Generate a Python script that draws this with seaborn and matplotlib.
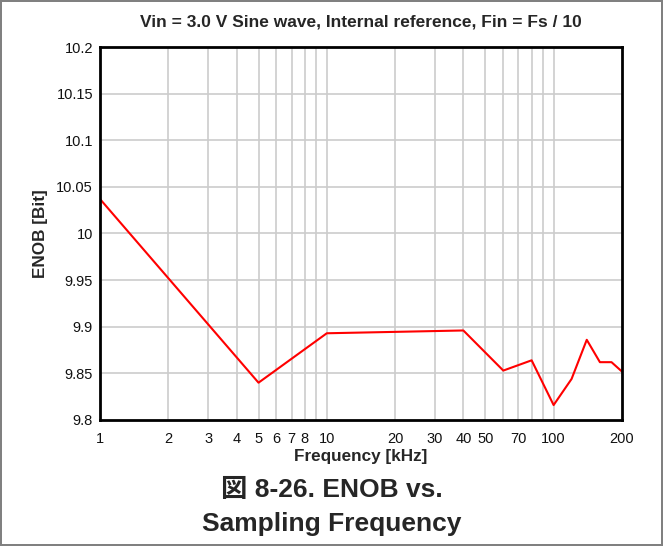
import numpy as np
import pandas as pd
import matplotlib.pyplot as plt
import seaborn as sns
from matplotlib.ticker import FixedLocator, NullFormatter, NullLocator

# Data
freq_khz = [1, 5, 10, 40, 60, 80, 100, 120, 140, 160, 180, 200]
enob_bit = [10.037, 9.840, 9.893, 9.896, 9.853, 9.864, 9.816, 9.844, 9.886, 9.862, 9.862, 9.852]

x_labeled = [1, 2, 3, 4, 5, 6, 7, 8, 10, 20, 30, 40, 50, 70, 100, 200]
x_grid = [2, 3, 4, 5, 6, 7, 8, 9, 10, 20, 30, 40, 50, 60, 70, 80, 90, 100]
y_ticks = [9.8, 9.85, 9.9, 9.95, 10, 10.05, 10.1, 10.15, 10.2]
y_labels = ['9.8', '9.85', '9.9', '9.95', '10', '10.05', '10.1', '10.15', '10.2']

df = pd.DataFrame({'freq': freq_khz, 'enob': enob_bit})

sns.set_theme(style='white')
plt.rcParams['font.family'] = ['Liberation Sans', 'Noto Sans CJK JP', 'DejaVu Sans']

fig = plt.figure(figsize=(6.63, 5.46), dpi=100)
fig.patch.set_edgecolor('#808080')
fig.patch.set_linewidth(1.5)
ax = fig.add_axes([0.1508, 0.2308, 0.938 - 0.1508, 0.9139 - 0.2308])

# grid
for xv in x_grid:
    ax.axvline(xv, color='#cccccc', lw=1.2, zorder=0)
for yv in y_ticks[1:-1]:
    ax.axhline(yv, color='#cccccc', lw=1.2, zorder=0)

sns.lineplot(data=df, x='freq', y='enob', color='#ff0000', lw=1.5, ax=ax)

ax.set_xscale('log')
ax.set_xlim(1, 200)
ax.set_ylim(9.8, 10.2)
ax.xaxis.set_major_locator(FixedLocator(x_labeled))
ax.xaxis.set_minor_locator(NullLocator())
ax.xaxis.set_minor_formatter(NullFormatter())
ax.set_xticklabels([str(v) for v in x_labeled])
ax.set_yticks(y_ticks)
ax.set_yticklabels(y_labels)
ax.tick_params(axis='both', labelsize=10.5, colors='#111111', length=0)
ax.tick_params(axis='x', pad=9)
ax.tick_params(axis='y', pad=5)

for s in ax.spines.values():
    s.set_color('black')
    s.set_linewidth(2)

ax.set_xlabel('Frequency [kHz]', fontsize=12.3, fontweight='bold', labelpad=1.5)
ax.set_ylabel('ENOB [Bit]', fontsize=12.3, fontweight='bold', labelpad=6)
ax.set_title('Vin = 3.0 V Sine wave, Internal reference, Fin = Fs / 10',
             fontsize=12.5, fontweight='bold', pad=15)

fig.text(0.5, 1 - 490 / 546, '図 8-26. ENOB vs.', ha='center', va='center',
         fontsize=19, fontweight='bold', family=['Liberation Sans', 'Noto Sans CJK JP'])
fig.text(0.5, 1 - 524 / 546, 'Sampling Frequency', ha='center', va='center',
         fontsize=19, fontweight='bold', family=['Liberation Sans', 'Noto Sans CJK JP'])

fig.savefig('out.png', dpi=100)
